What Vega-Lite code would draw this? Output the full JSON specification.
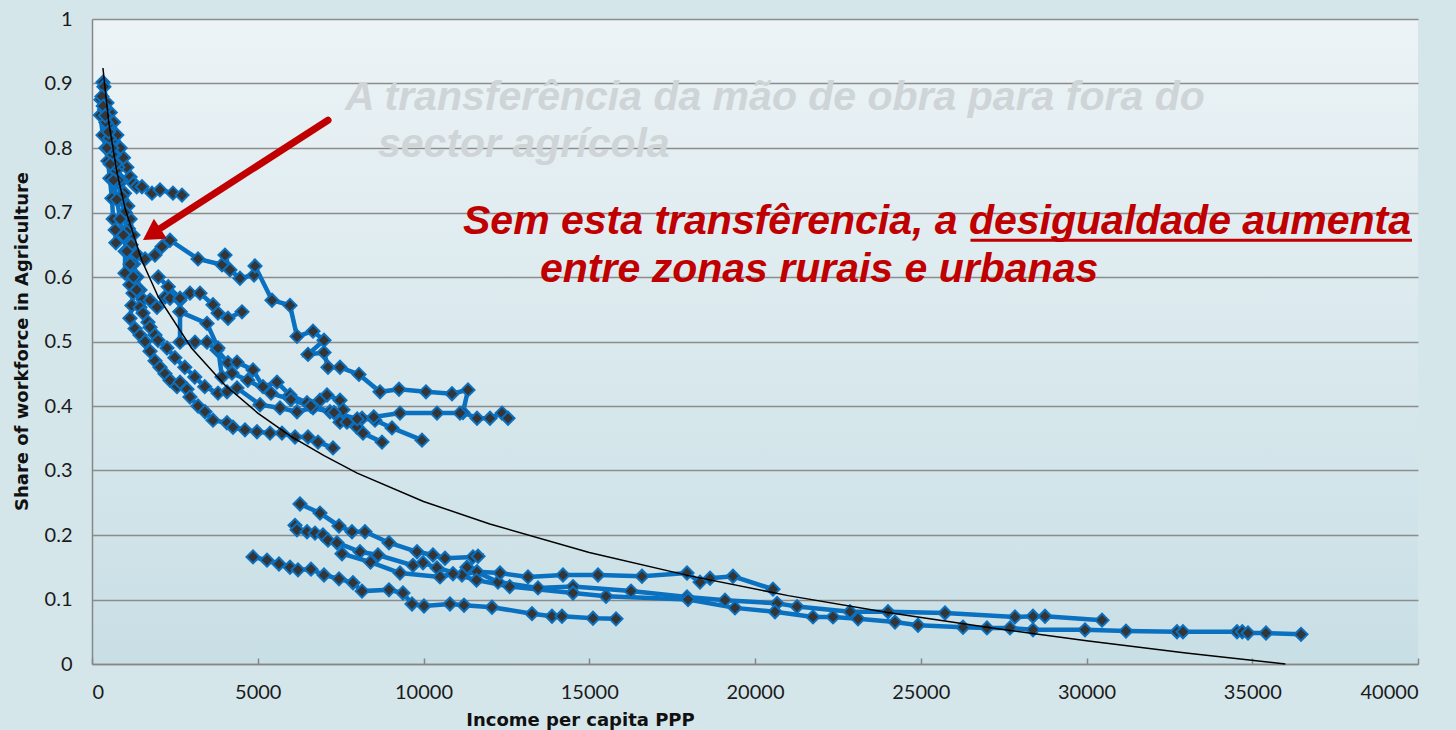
{
"$schema":"https://vega.github.io/schema/vega-lite/v6.json",
"width":1326,"height":645,
"autosize":{"type":"none"},
"padding":{"left":92,"top":19,"right":38,"bottom":66},
"background":"#d5e6eb",
"config":{
 "view":{"stroke":null,"fill":{"gradient":"linear","x1":0,"y1":0,"x2":0,"y2":1,"stops":[{"offset":0,"color":"#ecf3f6"},{"offset":1,"color":"#c8dfe5"}]}},
 "axis":{"labelFont":"Lato","labelFontSize":20,"labelColor":"#1a1a1a","domainColor":"#878787","domainWidth":1.5,"tickColor":"#878787","tickWidth":1.5,"titleFont":"DejaVu Sans","titleFontWeight":"bold","titleFontSize":18,"titleColor":"#111111"}
},
"datasets":{
"series":[
{"s":"U1","i":0,"x":330,"y":0.902},{"s":"U1","i":1,"x":270,"y":0.875},{"s":"U1","i":2,"x":250,"y":0.851},{"s":"U1","i":3,"x":330,"y":0.82},{"s":"U1","i":4,"x":420,"y":0.8},{"s":"U1","i":5,"x":480,"y":0.78},{"s":"U1","i":6,"x":540,"y":0.753},{"s":"U1","i":7,"x":600,"y":0.722},{"s":"U1","i":8,"x":640,"y":0.69},{"s":"U1","i":9,"x":700,"y":0.673},{"s":"U1","i":10,"x":720,"y":0.653},
{"s":"U2","i":0,"x":360,"y":0.895},{"s":"U2","i":1,"x":450,"y":0.87},{"s":"U2","i":2,"x":550,"y":0.855},{"s":"U2","i":3,"x":650,"y":0.84},{"s":"U2","i":4,"x":750,"y":0.82},{"s":"U2","i":5,"x":850,"y":0.8},{"s":"U2","i":6,"x":950,"y":0.785},{"s":"U2","i":7,"x":1050,"y":0.77},{"s":"U2","i":8,"x":1150,"y":0.755},{"s":"U2","i":9,"x":1250,"y":0.745},{"s":"U2","i":10,"x":1350,"y":0.74},{"s":"U2","i":11,"x":1508,"y":0.74},{"s":"U2","i":12,"x":1810,"y":0.73},{"s":"U2","i":13,"x":2051,"y":0.735},{"s":"U2","i":14,"x":2443,"y":0.73},{"s":"U2","i":15,"x":2715,"y":0.727},
{"s":"U3","i":0,"x":300,"y":0.88},{"s":"U3","i":1,"x":380,"y":0.86},{"s":"U3","i":2,"x":480,"y":0.835},{"s":"U3","i":3,"x":580,"y":0.81},{"s":"U3","i":4,"x":680,"y":0.79},{"s":"U3","i":5,"x":780,"y":0.77},{"s":"U3","i":6,"x":880,"y":0.75},{"s":"U3","i":7,"x":980,"y":0.73},{"s":"U3","i":8,"x":1080,"y":0.71},{"s":"U3","i":9,"x":1150,"y":0.69},{"s":"U3","i":10,"x":1237,"y":0.665},{"s":"U3","i":11,"x":1357,"y":0.635},{"s":"U3","i":12,"x":1600,"y":0.628},{"s":"U3","i":13,"x":1900,"y":0.634},{"s":"U3","i":14,"x":2112,"y":0.647},{"s":"U3","i":15,"x":2353,"y":0.657},{"s":"U3","i":16,"x":3198,"y":0.628},{"s":"U3","i":17,"x":3922,"y":0.619},{"s":"U3","i":18,"x":4012,"y":0.634},{"s":"U3","i":19,"x":4163,"y":0.611},{"s":"U3","i":20,"x":4464,"y":0.598},{"s":"U3","i":21,"x":4887,"y":0.603},{"s":"U3","i":22,"x":4917,"y":0.617},{"s":"U3","i":23,"x":5430,"y":0.564},{"s":"U3","i":24,"x":5973,"y":0.556},{"s":"U3","i":25,"x":6184,"y":0.508},{"s":"U3","i":26,"x":6667,"y":0.516},{"s":"U3","i":27,"x":6999,"y":0.502},{"s":"U3","i":28,"x":6516,"y":0.48},{"s":"U3","i":29,"x":6999,"y":0.483},{"s":"U3","i":30,"x":7119,"y":0.46},{"s":"U3","i":31,"x":7481,"y":0.46},{"s":"U3","i":32,"x":8054,"y":0.449},{"s":"U3","i":33,"x":8688,"y":0.422},{"s":"U3","i":34,"x":9261,"y":0.426},{"s":"U3","i":35,"x":10075,"y":0.422},{"s":"U3","i":36,"x":10860,"y":0.419},{"s":"U3","i":37,"x":11342,"y":0.425},{"s":"U3","i":38,"x":11191,"y":0.39},{"s":"U3","i":39,"x":11614,"y":0.381},{"s":"U3","i":40,"x":12006,"y":0.381},{"s":"U3","i":41,"x":12368,"y":0.389},{"s":"U3","i":42,"x":12549,"y":0.381},
{"s":"U4","i":0,"x":340,"y":0.865},{"s":"U4","i":1,"x":420,"y":0.84},{"s":"U4","i":2,"x":520,"y":0.815},{"s":"U4","i":3,"x":620,"y":0.79},{"s":"U4","i":4,"x":720,"y":0.765},{"s":"U4","i":5,"x":820,"y":0.745},{"s":"U4","i":6,"x":900,"y":0.72},{"s":"U4","i":7,"x":1000,"y":0.7},{"s":"U4","i":8,"x":1100,"y":0.675},{"s":"U4","i":9,"x":1180,"y":0.65},{"s":"U4","i":10,"x":1250,"y":0.62},{"s":"U4","i":11,"x":1357,"y":0.6},{"s":"U4","i":12,"x":1448,"y":0.58},{"s":"U4","i":13,"x":1538,"y":0.565},{"s":"U4","i":14,"x":1750,"y":0.564},{"s":"U4","i":15,"x":1960,"y":0.553},{"s":"U4","i":16,"x":2202,"y":0.569},{"s":"U4","i":17,"x":2353,"y":0.567},{"s":"U4","i":18,"x":2655,"y":0.564},{"s":"U4","i":19,"x":2956,"y":0.575},{"s":"U4","i":20,"x":3258,"y":0.575},{"s":"U4","i":21,"x":3650,"y":0.557},{"s":"U4","i":22,"x":3801,"y":0.544},{"s":"U4","i":23,"x":4102,"y":0.536},{"s":"U4","i":24,"x":4525,"y":0.546},
{"s":"U5","i":0,"x":400,"y":0.85},{"s":"U5","i":1,"x":500,"y":0.825},{"s":"U5","i":2,"x":600,"y":0.8},{"s":"U5","i":3,"x":700,"y":0.775},{"s":"U5","i":4,"x":800,"y":0.75},{"s":"U5","i":5,"x":900,"y":0.725},{"s":"U5","i":6,"x":995,"y":0.7},{"s":"U5","i":7,"x":1050,"y":0.67},{"s":"U5","i":8,"x":1000,"y":0.64},{"s":"U5","i":9,"x":995,"y":0.606},{"s":"U5","i":10,"x":1146,"y":0.588},{"s":"U5","i":11,"x":1237,"y":0.575},{"s":"U5","i":12,"x":1206,"y":0.556},{"s":"U5","i":13,"x":1146,"y":0.536},{"s":"U5","i":14,"x":1297,"y":0.52},{"s":"U5","i":15,"x":1448,"y":0.51},{"s":"U5","i":16,"x":1600,"y":0.5},{"s":"U5","i":17,"x":1750,"y":0.485},{"s":"U5","i":18,"x":1900,"y":0.47},{"s":"U5","i":19,"x":2051,"y":0.46},{"s":"U5","i":20,"x":2202,"y":0.45},{"s":"U5","i":21,"x":2353,"y":0.44},{"s":"U5","i":22,"x":2564,"y":0.43},{"s":"U5","i":23,"x":2655,"y":0.437},{"s":"U5","i":24,"x":2866,"y":0.426},{"s":"U5","i":25,"x":2956,"y":0.414},{"s":"U5","i":26,"x":3198,"y":0.4},{"s":"U5","i":27,"x":3409,"y":0.391},{"s":"U5","i":28,"x":3650,"y":0.378},{"s":"U5","i":29,"x":4072,"y":0.374},{"s":"U5","i":30,"x":4253,"y":0.367},{"s":"U5","i":31,"x":4615,"y":0.363},{"s":"U5","i":32,"x":4977,"y":0.36},{"s":"U5","i":33,"x":5369,"y":0.358},{"s":"U5","i":34,"x":5731,"y":0.358},{"s":"U5","i":35,"x":6124,"y":0.352},{"s":"U5","i":36,"x":6516,"y":0.352},{"s":"U5","i":37,"x":6818,"y":0.344},{"s":"U5","i":38,"x":7270,"y":0.335},
{"s":"U6","i":0,"x":450,"y":0.8},{"s":"U6","i":1,"x":550,"y":0.775},{"s":"U6","i":2,"x":650,"y":0.75},{"s":"U6","i":3,"x":750,"y":0.72},{"s":"U6","i":4,"x":850,"y":0.69},{"s":"U6","i":5,"x":950,"y":0.665},{"s":"U6","i":6,"x":1050,"y":0.64},{"s":"U6","i":7,"x":1150,"y":0.62},{"s":"U6","i":8,"x":1250,"y":0.6},{"s":"U6","i":9,"x":1350,"y":0.58},{"s":"U6","i":10,"x":1448,"y":0.553},{"s":"U6","i":11,"x":1538,"y":0.544},{"s":"U6","i":12,"x":1689,"y":0.53},{"s":"U6","i":13,"x":1750,"y":0.522},{"s":"U6","i":14,"x":1900,"y":0.51},{"s":"U6","i":15,"x":1991,"y":0.502},{"s":"U6","i":16,"x":2262,"y":0.49},{"s":"U6","i":17,"x":2500,"y":0.475},{"s":"U6","i":18,"x":2800,"y":0.46},{"s":"U6","i":19,"x":3100,"y":0.445},{"s":"U6","i":20,"x":3400,"y":0.43},{"s":"U6","i":21,"x":3801,"y":0.42},{"s":"U6","i":22,"x":4072,"y":0.422},{"s":"U6","i":23,"x":4374,"y":0.428},{"s":"U6","i":24,"x":5068,"y":0.402},{"s":"U6","i":25,"x":5671,"y":0.397},{"s":"U6","i":26,"x":6184,"y":0.391},{"s":"U6","i":27,"x":6667,"y":0.397},{"s":"U6","i":28,"x":7179,"y":0.391},{"s":"U6","i":29,"x":7481,"y":0.375},{"s":"U6","i":30,"x":7994,"y":0.367},{"s":"U6","i":31,"x":8175,"y":0.358},{"s":"U6","i":32,"x":8748,"y":0.344},
{"s":"M4","i":0,"x":2000,"y":0.6},{"s":"M4","i":1,"x":2300,"y":0.585},{"s":"M4","i":2,"x":2655,"y":0.567},{"s":"M4","i":3,"x":2655,"y":0.546},{"s":"M4","i":4,"x":2655,"y":0.499},{"s":"M4","i":5,"x":3107,"y":0.499},{"s":"M4","i":6,"x":3469,"y":0.499},{"s":"M4","i":7,"x":3771,"y":0.487},{"s":"M4","i":8,"x":4102,"y":0.467},{"s":"M4","i":9,"x":4374,"y":0.468},{"s":"M4","i":10,"x":4857,"y":0.456},{"s":"M4","i":11,"x":5158,"y":0.43},{"s":"M4","i":12,"x":5580,"y":0.437},{"s":"M4","i":13,"x":5973,"y":0.417},{"s":"M4","i":14,"x":6486,"y":0.405},{"s":"M4","i":15,"x":6878,"y":0.409},{"s":"M4","i":16,"x":7089,"y":0.417},{"s":"M4","i":17,"x":7481,"y":0.409},{"s":"M4","i":18,"x":7572,"y":0.394},{"s":"M4","i":19,"x":7692,"y":0.375},{"s":"M4","i":20,"x":8145,"y":0.381},{"s":"M4","i":21,"x":8537,"y":0.378},{"s":"M4","i":22,"x":9050,"y":0.366},{"s":"M4","i":23,"x":9955,"y":0.347},
{"s":"M5","i":0,"x":2655,"y":0.546},{"s":"M5","i":1,"x":3469,"y":0.528},{"s":"M5","i":2,"x":3801,"y":0.49},{"s":"M5","i":3,"x":3922,"y":0.445},{"s":"M5","i":4,"x":4223,"y":0.451},{"s":"M5","i":5,"x":4700,"y":0.44},{"s":"M5","i":6,"x":5400,"y":0.42},{"s":"M5","i":7,"x":6000,"y":0.41},{"s":"M5","i":8,"x":6600,"y":0.4},{"s":"M5","i":9,"x":7300,"y":0.39},{"s":"M5","i":10,"x":8000,"y":0.38},{"s":"M5","i":11,"x":8500,"y":0.383},{"s":"M5","i":12,"x":9291,"y":0.389},{"s":"M5","i":13,"x":10407,"y":0.389},{"s":"M5","i":14,"x":11101,"y":0.389},
{"s":"L1","i":0,"x":6275,"y":0.248},{"s":"L1","i":1,"x":6878,"y":0.234},{"s":"L1","i":2,"x":7451,"y":0.214},{"s":"L1","i":3,"x":7843,"y":0.205},{"s":"L1","i":4,"x":8235,"y":0.205},{"s":"L1","i":5,"x":8959,"y":0.188},{"s":"L1","i":6,"x":9804,"y":0.174},{"s":"L1","i":7,"x":10286,"y":0.169},{"s":"L1","i":8,"x":10649,"y":0.164},{"s":"L1","i":9,"x":11493,"y":0.166},{"s":"L1","i":10,"x":11644,"y":0.167},{"s":"L1","i":11,"x":11312,"y":0.15},{"s":"L1","i":12,"x":12247,"y":0.127},{"s":"L1","i":13,"x":13454,"y":0.118},{"s":"L1","i":14,"x":14510,"y":0.12},{"s":"L1","i":15,"x":16259,"y":0.113},{"s":"L1","i":16,"x":17949,"y":0.104},{"s":"L1","i":17,"x":19095,"y":0.099},{"s":"L1","i":18,"x":20664,"y":0.094},{"s":"L1","i":19,"x":21267,"y":0.089},{"s":"L1","i":20,"x":22866,"y":0.081},{"s":"L1","i":21,"x":24012,"y":0.081},{"s":"L1","i":22,"x":25732,"y":0.079},{"s":"L1","i":23,"x":27843,"y":0.073},{"s":"L1","i":24,"x":28386,"y":0.074},{"s":"L1","i":25,"x":28748,"y":0.074},{"s":"L1","i":26,"x":30468,"y":0.068},
{"s":"L2","i":0,"x":6124,"y":0.215},{"s":"L2","i":1,"x":6184,"y":0.208},{"s":"L2","i":2,"x":6486,"y":0.205},{"s":"L2","i":3,"x":6727,"y":0.203},{"s":"L2","i":4,"x":6968,"y":0.2},{"s":"L2","i":5,"x":7119,"y":0.192},{"s":"L2","i":6,"x":7390,"y":0.188},{"s":"L2","i":7,"x":8084,"y":0.174},{"s":"L2","i":8,"x":8627,"y":0.169},{"s":"L2","i":9,"x":9683,"y":0.153},{"s":"L2","i":10,"x":9985,"y":0.157},{"s":"L2","i":11,"x":10407,"y":0.149},{"s":"L2","i":12,"x":11161,"y":0.138},{"s":"L2","i":13,"x":11614,"y":0.143},{"s":"L2","i":14,"x":12308,"y":0.141},{"s":"L2","i":15,"x":13152,"y":0.135},{"s":"L2","i":16,"x":14208,"y":0.138},{"s":"L2","i":17,"x":15264,"y":0.138},{"s":"L2","i":18,"x":16591,"y":0.136},{"s":"L2","i":19,"x":17949,"y":0.141},{"s":"L2","i":20,"x":18341,"y":0.127},{"s":"L2","i":21,"x":18643,"y":0.133},{"s":"L2","i":22,"x":19336,"y":0.136},{"s":"L2","i":23,"x":20543,"y":0.116},
{"s":"L3","i":0,"x":7541,"y":0.171},{"s":"L3","i":1,"x":8400,"y":0.158},{"s":"L3","i":2,"x":9291,"y":0.141},{"s":"L3","i":3,"x":10498,"y":0.135},{"s":"L3","i":4,"x":10890,"y":0.14},{"s":"L3","i":5,"x":11600,"y":0.13},{"s":"L3","i":6,"x":12600,"y":0.12},{"s":"L3","i":7,"x":14510,"y":0.11},{"s":"L3","i":8,"x":15506,"y":0.105},{"s":"L3","i":9,"x":17979,"y":0.1},{"s":"L3","i":10,"x":19396,"y":0.087},{"s":"L3","i":11,"x":20603,"y":0.081},{"s":"L3","i":12,"x":21749,"y":0.073},{"s":"L3","i":13,"x":22353,"y":0.073},{"s":"L3","i":14,"x":23107,"y":0.07},{"s":"L3","i":15,"x":24223,"y":0.065},{"s":"L3","i":16,"x":24917,"y":0.06},{"s":"L3","i":17,"x":26274,"y":0.057},{"s":"L3","i":18,"x":26998,"y":0.056},{"s":"L3","i":19,"x":27692,"y":0.056},{"s":"L3","i":20,"x":28386,"y":0.053},{"s":"L3","i":21,"x":29955,"y":0.053},{"s":"L3","i":22,"x":31191,"y":0.051},{"s":"L3","i":23,"x":32729,"y":0.05},{"s":"L3","i":24,"x":32910,"y":0.05},{"s":"L3","i":25,"x":34540,"y":0.05},{"s":"L3","i":26,"x":34700,"y":0.05},{"s":"L3","i":27,"x":34872,"y":0.048},{"s":"L3","i":28,"x":35415,"y":0.048},{"s":"L3","i":29,"x":36471,"y":0.046},
{"s":"L5","i":0,"x":4857,"y":0.166},{"s":"L5","i":1,"x":5279,"y":0.161},{"s":"L5","i":2,"x":5641,"y":0.155},{"s":"L5","i":3,"x":5973,"y":0.15},{"s":"L5","i":4,"x":6214,"y":0.146},{"s":"L5","i":5,"x":6606,"y":0.147},{"s":"L5","i":6,"x":6998,"y":0.138},{"s":"L5","i":7,"x":7451,"y":0.132},{"s":"L5","i":8,"x":7873,"y":0.126},{"s":"L5","i":9,"x":8145,"y":0.113},{"s":"L5","i":10,"x":8959,"y":0.115},{"s":"L5","i":11,"x":9381,"y":0.11},{"s":"L5","i":12,"x":9653,"y":0.093},{"s":"L5","i":13,"x":10015,"y":0.09},{"s":"L5","i":14,"x":10799,"y":0.093},{"s":"L5","i":15,"x":11222,"y":0.091},{"s":"L5","i":16,"x":12066,"y":0.088},{"s":"L5","i":17,"x":13273,"y":0.078},{"s":"L5","i":18,"x":13876,"y":0.074},{"s":"L5","i":19,"x":14178,"y":0.074},{"s":"L5","i":20,"x":15113,"y":0.071},{"s":"L5","i":21,"x":15807,"y":0.07}
],
"trend":[
{"x":330,"y":0.924},{"x":500,"y":0.842},{"x":750,"y":0.763},{"x":1000,"y":0.706},{"x":1500,"y":0.626},{"x":2000,"y":0.569},{"x":3000,"y":0.49},{"x":4000,"y":0.433},{"x":5000,"y":0.389},{"x":6000,"y":0.353},{"x":7000,"y":0.323},{"x":8000,"y":0.296},{"x":10000,"y":0.252},{"x":12000,"y":0.217},{"x":15000,"y":0.173},{"x":18000,"y":0.137},{"x":21000,"y":0.106},{"x":24000,"y":0.08},{"x":27000,"y":0.057},{"x":30000,"y":0.036},{"x":33000,"y":0.017},{"x":36000,"y":0.0}
]
},
"layer":[
{"data":{"name":"series"},
 "mark":{"type":"line","color":"#0a70c0","strokeWidth":4.5},
 "encoding":{
  "x":{"field":"x","type":"quantitative","scale":{"domain":[0,40000],"nice":false,"zero":false},
   "axis":{"title":"Income per capita PPP","values":[0,5000,10000,15000,20000,25000,30000,35000,40000],"format":"d","grid":false,"tickSize":-6,"labelPadding":24,"titleX":488,"titleY":56,"titleBaseline":"middle","titleAlign":"center"}},
  "y":{"field":"y","type":"quantitative","scale":{"domain":[0,1],"nice":false},
   "axis":{"title":"Share of workforce in  Agriculture","values":[0,0.1,0.2,0.3,0.4,0.5,0.6,0.7,0.8,0.9,1],"format":"~g","ticks":false,"labelPadding":20,"grid":true,"gridColor":"#8c8c8c","gridWidth":1.5,"titleX":-70,"titleY":322,"titleAngle":270,"titleBaseline":"middle","titleAlign":"center"}},
  "detail":{"field":"s"},
  "order":{"field":"i","type":"quantitative"}
 }},
{"data":{"name":"series"},
 "mark":{"type":"point","shape":"diamond","filled":true,"size":170,"fill":"#353535","stroke":"#0a70c0","strokeWidth":2,"opacity":1},
 "encoding":{"x":{"field":"x","type":"quantitative"},"y":{"field":"y","type":"quantitative"}}},
{"data":{"name":"trend"},
 "mark":{"type":"line","color":"#000000","strokeWidth":1.5},
 "encoding":{"x":{"field":"x","type":"quantitative"},"y":{"field":"y","type":"quantitative"}}},
{"data":{"values":[{"x":7632,"y":0.859,"t":"A transferência da mão de obra para fora do"},{"x":8627,"y":0.786,"t":"sector agrícola"}]},
 "mark":{"type":"text","font":"Liberation Sans","fontSize":41,"fontStyle":"italic","fontWeight":"bold","color":"#cfd4d7","align":"left","baseline":"alphabetic"},
 "encoding":{"x":{"field":"x","type":"quantitative"},"y":{"field":"y","type":"quantitative"},"text":{"field":"t"}}},
{"data":{"values":[{"x":11192,"y":0.666,"t":"Sem esta transfêrencia, a desigualdade aumenta"},{"x":13514,"y":0.592,"t":"entre zonas rurais e urbanas"}]},
 "mark":{"type":"text","font":"Liberation Sans","fontSize":41,"fontStyle":"italic","fontWeight":"bold","color":"#c00000","align":"left","baseline":"alphabetic"},
 "encoding":{"x":{"field":"x","type":"quantitative"},"y":{"field":"y","type":"quantitative"},"text":{"field":"t"}}},
{"data":{"values":[{"x":26500,"y":0.657,"x2":39819,"y2":0.657}]},
 "mark":{"type":"rule","color":"#c00000","strokeWidth":3},
 "encoding":{"x":{"field":"x","type":"quantitative"},"y":{"field":"y","type":"quantitative"},"x2":{"field":"x2"},"y2":{"field":"y2"}}},
{"data":{"values":[{"x":7119,"y":0.843,"x2":1991,"y2":0.673}]},
 "mark":{"type":"rule","color":"#c00000","strokeWidth":7,"strokeCap":"round"},
 "encoding":{"x":{"field":"x","type":"quantitative"},"y":{"field":"y","type":"quantitative"},"x2":{"field":"x2"},"y2":{"field":"y2"}}},
{"data":{"values":[{"x":1801,"y":0.666}]},
 "mark":{"type":"point","shape":"triangle-up","filled":true,"size":576,"angle":237,"fill":"#c00000","opacity":1,"strokeWidth":0},
 "encoding":{"x":{"field":"x","type":"quantitative"},"y":{"field":"y","type":"quantitative"}}}
]
}
